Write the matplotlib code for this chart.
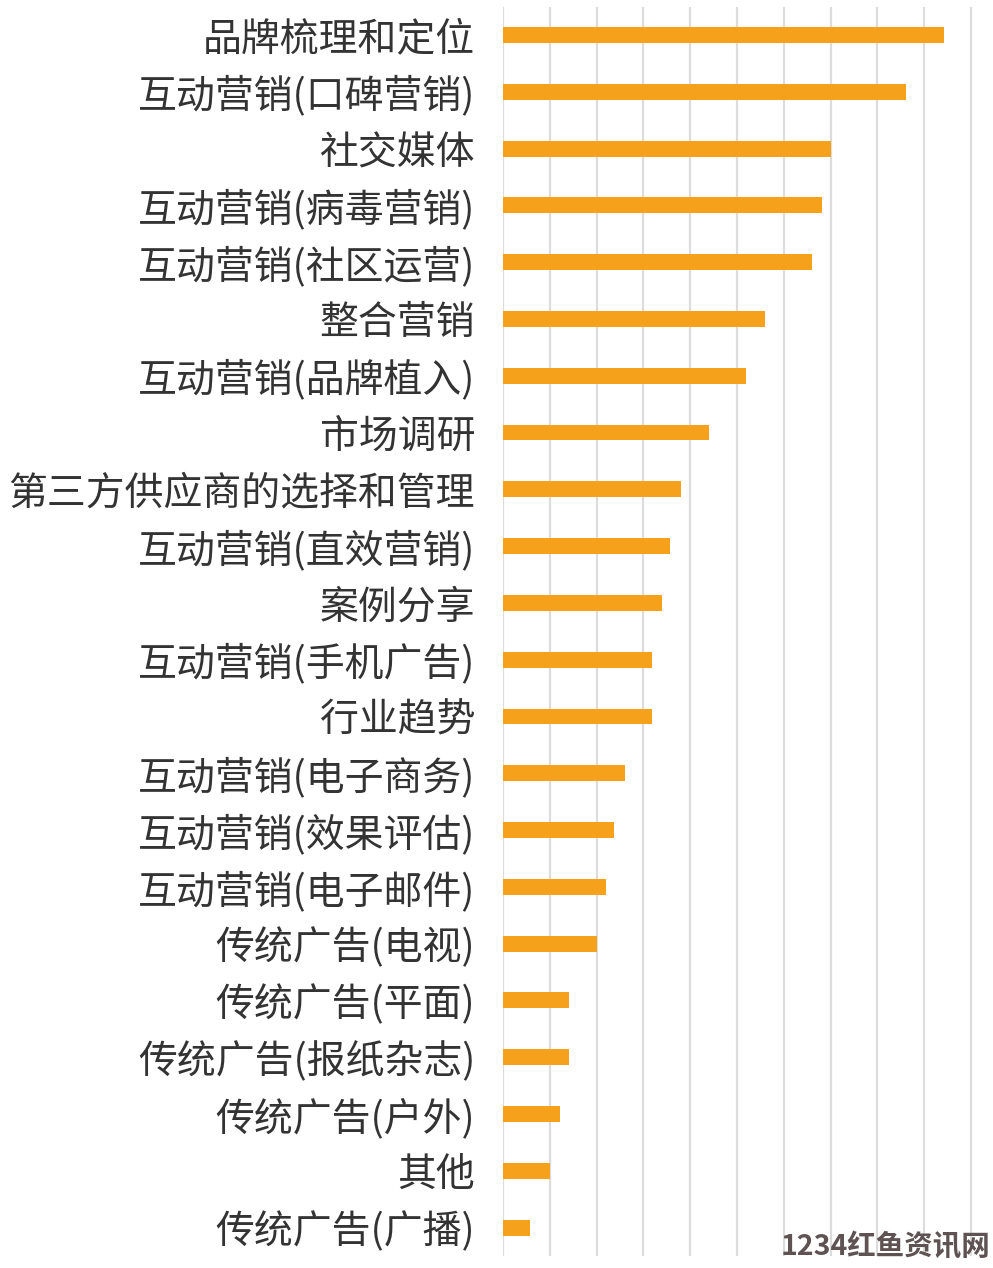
import matplotlib

matplotlib.use("Agg")

import matplotlib.pyplot as plt

plt.rcParams["font.family"] = ["Noto Sans CJK SC", "DejaVu Sans"]

BAR_COLOR = "#F5A11C"
GRID_COLOR = "#DCDCDC"
LABEL_COLOR = "#333333"

categories = [
    "品牌梳理和定位",
    "互动营销(口碑营销)",
    "社交媒体",
    "互动营销(病毒营销)",
    "互动营销(社区运营)",
    "整合营销",
    "互动营销(品牌植入)",
    "市场调研",
    "第三方供应商的选择和管理",
    "互动营销(直效营销)",
    "案例分享",
    "互动营销(手机广告)",
    "行业趋势",
    "互动营销(电子商务)",
    "互动营销(效果评估)",
    "互动营销(电子邮件)",
    "传统广告(电视)",
    "传统广告(平面)",
    "传统广告(报纸杂志)",
    "传统广告(户外)",
    "其他",
    "传统广告(广播)",
]
values = [9.42, 8.61, 7.0, 6.81, 6.6, 5.61, 5.2, 4.41, 3.81, 3.58, 3.4,
          3.19, 3.19, 2.61, 2.38, 2.2, 2.0, 1.41, 1.41, 1.22, 1.0, 0.58]
grid_ticks = list(range(0, 11))

fig = plt.figure(figsize=(9.93, 12.68), dpi=100)
ax = fig.add_axes([0.5065, 0.0095, 0.476, 0.9853])

ypos = list(range(len(categories)))
ax.barh(ypos, values, height=0.28, color=BAR_COLOR, zorder=3)
ax.set_ylim(len(categories) - 0.5, -0.5)
ax.set_xlim(0, 10.1)

ax.set_xticks(grid_ticks)
ax.set_xticklabels([])
ax.tick_params(axis="x", length=0)
ax.grid(True, axis="x", color=GRID_COLOR, linewidth=1.6, zorder=0)

ax.set_yticks(ypos)
ax.set_yticklabels(categories, fontsize=28, color=LABEL_COLOR, fontweight="medium")
ax.tick_params(axis="y", length=0, pad=20)

for side in ["top", "right", "bottom", "left"]:
    ax.spines[side].set_visible(False)

fig.text(0.997, 0.005, "1234红鱼资讯网", ha="right", va="bottom",
         fontsize=20.5, fontweight="bold", color="#5E5252")

fig.savefig("out.png", dpi=100, facecolor="white")
